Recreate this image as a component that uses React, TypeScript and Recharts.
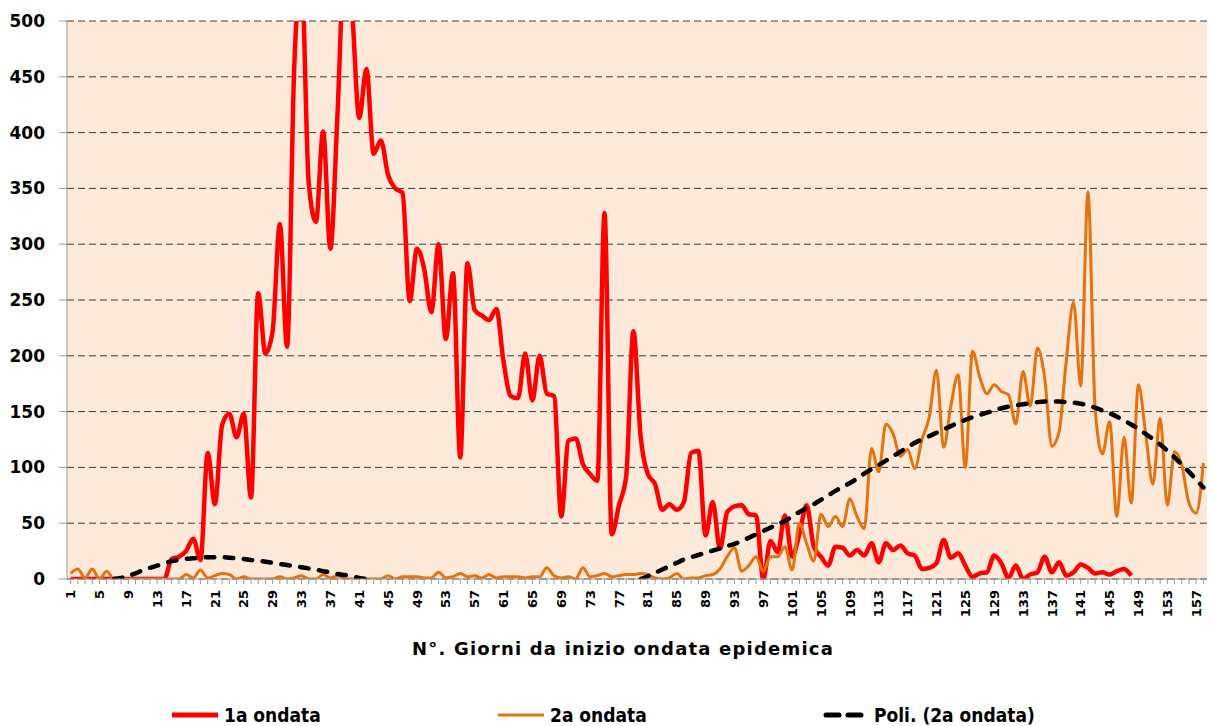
import { LineChart, Line, XAxis, YAxis, CartesianGrid } from "recharts";

// giorni 1..158 dall'inizio dell'ondata
const days = Array.from({ length: 158 }, (_, i) => i + 1);

// 1a ondata (giorni 1..148)
const primaOndata = [
  0, 0, 0, 0, 0, 0, 0, 0, 0, 0, 0, 0, 0, 0, 18, 20, 25, 36, 17, 113,
  67, 138, 148, 127, 148, 73, 256, 202, 222, 318, 208, 460, 540, 355, 320, 401, 296, 418, 560, 510,
  413, 457, 381, 393, 362, 350, 346, 249, 296, 278, 239, 300, 215, 274, 109, 283, 241, 236, 232, 242,
  195, 164, 162, 202, 160, 200, 166, 164, 56, 124, 126, 103, 94, 88, 328, 40, 66, 92, 222, 128,
  94, 85, 62, 67, 62, 69, 113, 115, 39, 69, 27, 60, 65, 66, 58, 57, 0, 34, 24, 57,
  20, 40, 66, 29, 20, 12, 29, 28, 21, 26, 21, 32, 15, 32, 26, 30, 23, 21, 9, 10,
  14, 35, 19, 23, 12, 2, 5, 6, 21, 14, 1, 12, 0, 4, 6, 20, 6, 15, 3, 6,
  13, 10, 5, 6, 4, 7, 9, 3,
];

// 2a ondata (giorni 1..158)
const secondaOndata = [
  5, 9, 1, 9, 0, 7, 0, 0, 0, 0, 0, 0, 0, 0, 0, 0, 4, 1, 8, 1,
  3, 5, 4, 0, 2, 0, 0, 0, 0, 2, 0, 1, 3, 0, 0, 4, 1, 3, 0, 0,
  0, 0, 0, 0, 3, 0, 2, 2, 2, 1, 1, 6, 1, 2, 5, 2, 3, 1, 4, 1,
  2, 2, 2, 1, 2, 2, 10, 3, 1, 2, 0, 10, 2, 3, 5, 2, 3, 4, 4, 5,
  4, 1, 0, 1, 5, 0, 1, 1, 3, 4, 9, 20, 28, 7, 12, 20, 7, 20, 20, 29,
  8, 50, 32, 16, 58, 47, 56, 47, 72, 56, 45, 117, 96, 139, 130, 110, 116, 99, 125, 145,
  187, 118, 155, 183, 100, 204, 181, 166, 174, 168, 165, 139, 186, 155, 207, 180, 119, 132, 196, 248,
  173, 347, 152, 112, 141, 56, 127, 68, 174, 130, 85, 144, 66, 114, 102, 68, 59, 104,
];

// Poli. (2a ondata) - tratti sotto lo zero non disegnati
const poli = [
  null, null, null, null, null, null, 0, 1, 3, 5, 8, 10, 12, 14, 16, 17, 18, 18.5, 19, 19.5,
  19.5, 19.5, 19, 18.5, 18, 17, 16.5, 15.5, 14.5, 13.5, 12.5, 11.5, 10.5, 9.5, 8.5, 7, 6, 4.5, 3.5, 2.5,
  1, 0, null, null, null, null, null, null, null, null, null, null, null, null, null, null, null, null, null, null,
  null, null, null, null, null, null, null, null, null, null, null, null, null, null, null, null, null, null, null, 0,
  2.5, 5.5, 8.5, 11.5, 14.5, 17.5, 19.5, 21.5, 23.5, 25.5, 27.5, 29.5, 31.5, 34, 37, 40, 43, 46, 49, 52,
  56, 60, 63.5, 67, 71, 75, 79, 82.5, 86, 90, 94.5, 98.5, 102, 106, 110, 114, 118, 122, 125, 128,
  131, 134, 137, 140, 142.5, 145, 147, 149, 151, 153, 154.5, 155.5, 156.5, 157.5, 158.5, 159, 159, 159, 158.5, 158,
  157, 155.5, 153.5, 151, 148.5, 145.5, 142, 138.5, 134.5, 130, 125.5, 120.5, 115, 109, 102.5, 96, 89, 82,
];

const yTicks = [0, 50, 100, 150, 200, 250, 300, 350, 400, 450, 500];

const data = days.map((d, i) => ({
  day: d,
  prima: primaOndata[i] ?? null,
  seconda: secondaOndata[i] ?? null,
  poli: poli[i] ?? null,
}));

const XTick = (props: any) => {
  const { x, y, payload, index } = props;
  if (index % 4 !== 0) return <g />;
  return (
    <text
      x={x}
      y={y}
      transform={`rotate(-90, ${x}, ${y})`}
      textAnchor="end"
      dy="0.36em"
      fill="#000"
      fontFamily="'DejaVu Sans', sans-serif"
      fontWeight="bold"
      fontSize={13}
    >
      {payload.value}
    </text>
  );
};

const legendFont = {
  position: "absolute" as const,
  top: 704,
  height: 22,
  lineHeight: "22px",
  fontFamily: "'DejaVu Sans Condensed', 'DejaVu Sans', sans-serif",
  fontStretch: "condensed",
  fontWeight: "bold" as const,
  fontSize: 19,
  color: "#000",
  whiteSpace: "nowrap" as const,
};

const App = () => {
  return (
    <div style={{ position: "absolute", left: 0, top: 0, width: 1211, height: 726, background: "#fff" }}>
      <LineChart width={1211} height={726} data={data} margin={{ top: 21, right: 4, left: 7, bottom: 0 }}>
        <CartesianGrid
          vertical={false}
          stroke="#3a3a3a"
          strokeDasharray="7 4"
          fill="#FDE9D9"
          fillOpacity={1}
        />
        <XAxis
          dataKey="day"
          interval={0}
          height={147}
          padding={{ left: 3.6, right: 3.6 }}
          tick={<XTick />}
          tickLine={{ stroke: "#9a9a9a" }}
          tickSize={5}
          tickMargin={6}
          axisLine={{ stroke: "#9a9a9a" }}
          label={{
            value: "N°. Giorni da inizio ondata epidemica",
            position: "insideBottom",
            offset: 71,
            dx: -14,
            style: {
              fontFamily: "'DejaVu Sans', sans-serif",
              fontWeight: "bold",
              fontSize: 18,
              letterSpacing: 1.2,
              fill: "#000",
            },
          }}
        />
        <YAxis
          width={60}
          domain={[0, 500]}
          ticks={yTicks}
          allowDataOverflow
          tickSize={8}
          tickMargin={14}
          tickLine={{ stroke: "#9a9a9a" }}
          axisLine={{ stroke: "#9a9a9a" }}
          tick={{ fill: "#000", fontFamily: "'DejaVu Sans', sans-serif", fontWeight: "bold", fontSize: 17 }}
        />
        <Line
          type="monotone"
          dataKey="prima"
          stroke="#FF0000"
          strokeWidth={4.5}
          dot={false}
          isAnimationActive={false}
        />
        <Line
          type="monotone"
          dataKey="seconda"
          stroke="#E4730F"
          strokeWidth={3}
          dot={false}
          isAnimationActive={false}
        />
        <Line
          type="monotone"
          dataKey="poli"
          stroke="#000"
          strokeWidth={4.5}
          strokeDasharray="8.5 10.5"
          strokeLinecap="round"
          dot={false}
          connectNulls={false}
          isAnimationActive={false}
        />
      </LineChart>

      <svg style={{ position: "absolute", left: 170, top: 710 }} width={52} height={10}>
        <line x1={2} y1={5} x2={48} y2={5} stroke="#FF0000" strokeWidth={5} />
      </svg>
      <span style={{ ...legendFont, left: 224 }}>1a ondata</span>

      <svg style={{ position: "absolute", left: 496, top: 710 }} width={52} height={10}>
        <line x1={2} y1={5} x2={48} y2={5} stroke="#E4730F" strokeWidth={3} />
      </svg>
      <span style={{ ...legendFont, left: 550 }}>2a ondata</span>

      <svg style={{ position: "absolute", left: 822, top: 710 }} width={52} height={10}>
        <line x1={4} y1={5} x2={46} y2={5} stroke="#000" strokeWidth={5} strokeDasharray="13 9" strokeLinecap="round" />
      </svg>
      <span style={{ ...legendFont, left: 874 }}>Poli. (2a ondata)</span>
    </div>
  );
};

export default App;
